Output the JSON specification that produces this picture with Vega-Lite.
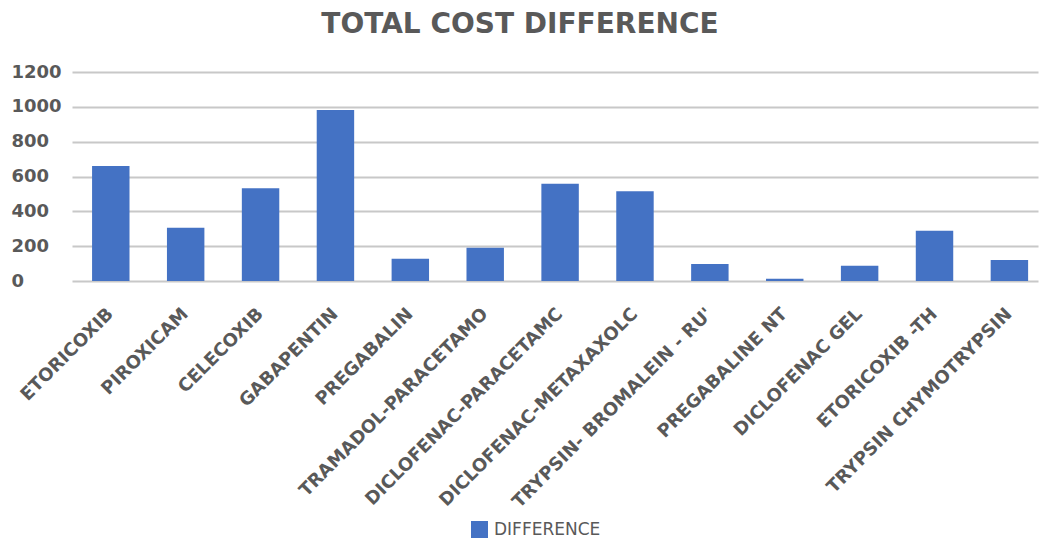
{
  "$schema": "https://vega.github.io/schema/vega-lite/v6.json",
  "width": 966,
  "height": 209,
  "autosize": {"type": "none"},
  "padding": {"left": 72, "top": 72, "right": 2, "bottom": 262},
  "background": "white",
  "title": {
    "text": "TOTAL COST DIFFERENCE",
    "font": "DejaVu Sans",
    "fontSize": 28,
    "fontWeight": "bold",
    "color": "#595959",
    "anchor": "middle",
    "frame": "group",
    "dx": -35,
    "baseline": "alphabetic",
    "offset": 2
  },
  "data": {
    "values": [
      {"drug": "ETORICOXIB", "value": 660},
      {"drug": "PIROXICAM", "value": 306},
      {"drug": "CELECOXIB", "value": 532},
      {"drug": "GABAPENTIN", "value": 982},
      {"drug": "PREGABALIN", "value": 128},
      {"drug": "TRAMADOL-PARACETAMO", "value": 191},
      {"drug": "DICLOFENAC-PARACETAMC", "value": 559},
      {"drug": "DICLOFENAC-METAXAXOLC", "value": 515},
      {"drug": "TRYPSIN- BROMALEIN - RU'", "value": 98},
      {"drug": "PREGABALINE NT", "value": 13},
      {"drug": "DICLOFENAC GEL", "value": 88},
      {"drug": "ETORICOXIB -TH", "value": 289},
      {"drug": "TRYPSIN CHYMOTRYPSIN", "value": 121}
    ]
  },
  "mark": {"type": "bar"},
  "encoding": {
    "x": {
      "field": "drug",
      "type": "nominal",
      "sort": null,
      "scale": {"paddingInner": 0.5, "paddingOuter": 0.2, "align": 0.67},
      "axis": {
        "title": null,
        "domain": false,
        "ticks": false,
        "tickSize": 0,
        "labelAngle": -45,
        "labelAlign": "right",
        "labelBaseline": "middle",
        "labelPadding": 30,
        "labelFont": "DejaVu Sans",
        "labelFontSize": 18,
        "labelFontWeight": "bold",
        "labelColor": "#595959",
        "labelLimit": 0,
        "labelOverlap": false
      }
    },
    "y": {
      "field": "value",
      "type": "quantitative",
      "scale": {"domain": [0, 1200], "nice": false},
      "axis": {
        "title": null,
        "values": [0, 200, 400, 600, 800, 1000, 1200],
        "format": "d",
        "domain": false,
        "ticks": false,
        "tickSize": 0,
        "grid": true,
        "gridColor": "#c8c8c8",
        "gridWidth": 2,
        "labelAlign": "left",
        "labelBaseline": "middle",
        "labelPadding": 61,
        "labelFont": "DejaVu Sans",
        "labelFontSize": 18,
        "labelFontWeight": "bold",
        "labelColor": "#595959"
      }
    },
    "color": {
      "datum": "DIFFERENCE",
      "type": "nominal",
      "scale": {"range": ["#4472C4"]},
      "legend": {
        "title": null,
        "orient": "none",
        "legendX": 399,
        "legendY": 449,
        "padding": 0,
        "symbolType": "square",
        "symbolSize": 289,
        "symbolStrokeWidth": 0,
        "symbolOpacity": 1,
        "labelFont": "DejaVu Sans",
        "labelFontSize": 17,
        "labelColor": "#595959",
        "labelOffset": 6
      }
    }
  },
  "config": {
    "view": {"stroke": null}
  }
}
